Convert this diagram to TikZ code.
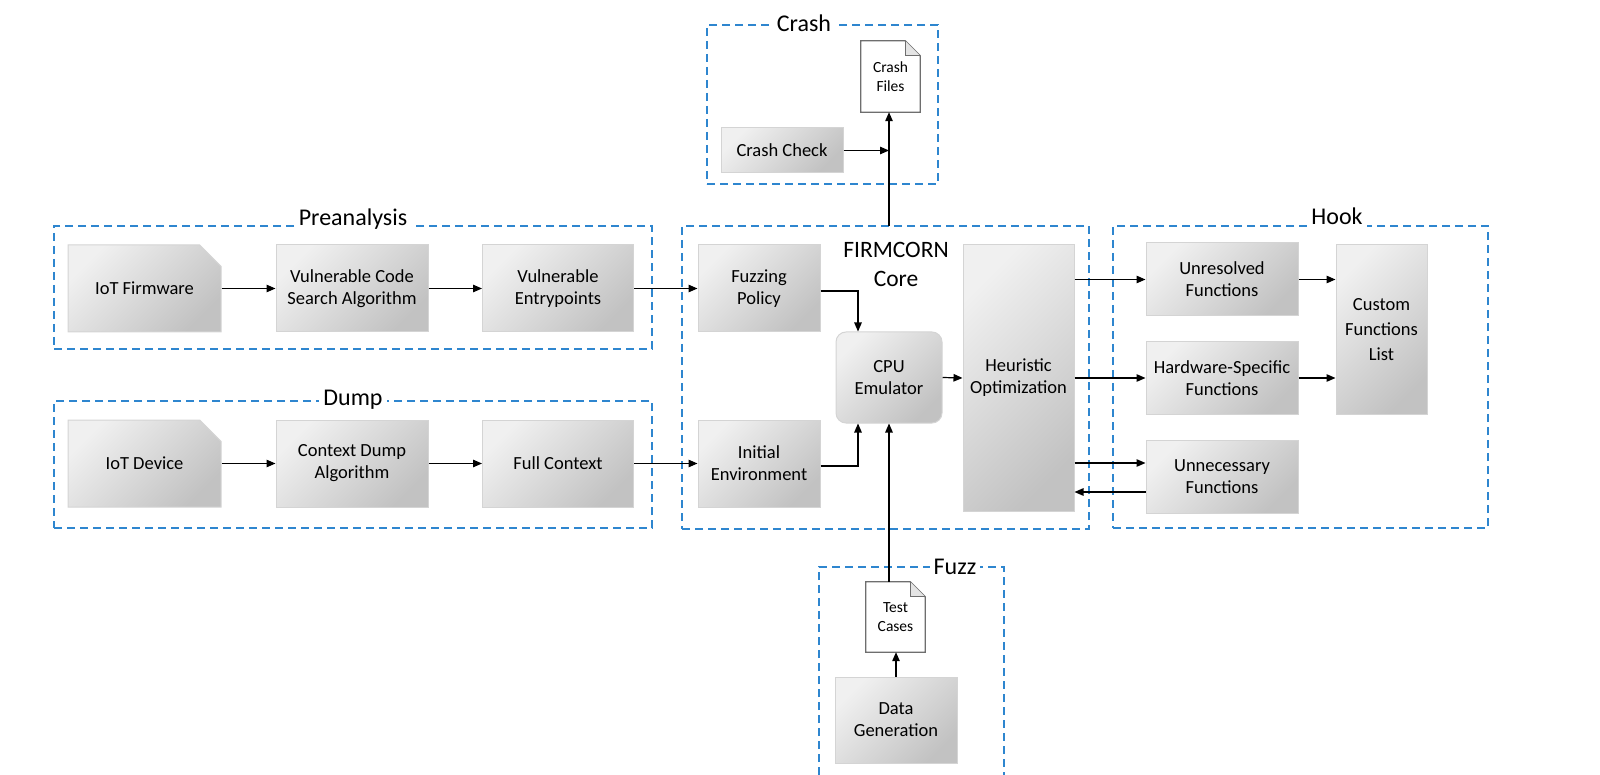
\documentclass[tikz,border=0pt]{standalone}
\usepackage{fontspec}
\setmainfont{Carlito}
\usetikzlibrary{arrows.meta,shapes.misc}
\definecolor{gtop}{HTML}{F0F0F0}
\definecolor{gbot}{HTML}{C2C2C2}
\definecolor{gborder}{HTML}{D4D4D4}
\definecolor{grpblue}{HTML}{2E86CF}
\definecolor{docgray}{HTML}{6E6E6E}
\definecolor{foldgray}{HTML}{E4E4E4}
\begin{document}
\begin{tikzpicture}[x=1pt,y=-1pt,
  gbox/.style={draw=gborder, line width=1pt, top color=gtop, bottom color=gbot, shading angle=45,
    align=center, inner sep=2pt, font=\fontsize{18.5}{22}\selectfont},
  snipbox/.style={gbox, chamfered rectangle, chamfered rectangle corners=north east,
    chamfered rectangle xsep=13pt, chamfered rectangle ysep=13pt},
  docnode/.style={align=center, inner sep=0pt, font=\fontsize{15.5}{19}\selectfont},
  docline/.style={draw=docgray, line width=1.3pt, line join=miter},
  group/.style={draw=grpblue, line width=1.3pt, dash pattern=on 8pt off 5pt, inner sep=0pt, outer sep=0pt},
  grplabel/.style={fill=white, inner sep=4pt, anchor=base, font=\fontsize{24}{28}\selectfont},
  arr/.style={draw=black, line width=1.2pt, -{Triangle[length=9pt,width=7.5pt]}},
  plain/.style={draw=black!80, line width=1.4pt}
]
\useasboundingbox (0,0) rectangle (1600,775);

% group boxes
\node[group, minimum width=231pt, minimum height=159pt] (gcrash) at (822.5,104.5) {};
\node[group, minimum width=598pt, minimum height=123pt] (gpre) at (353,287.5) {};
\node[group, minimum width=598pt, minimum height=127pt] (gdump) at (353,464.5) {};
\node[group, minimum width=407pt, minimum height=303pt] (gcore) at (885.5,377.5) {};
\node[group, minimum width=375pt, minimum height=302pt] (ghook) at (1300.5,377) {};
\coordinate (fz1) at (819,775);
\coordinate (fz2) at (819,567);
\coordinate (fz3) at (1004,567);
\coordinate (fz4) at (1004,775);
\draw[group] (fz1) -- (fz2) -- (fz3) -- (fz4);

% group labels
\node[grplabel] (lcrash) at (804,32) {Crash};
\node[grplabel] (lpre) at (353,226) {Preanalysis};
\node[grplabel] (ldump) at (353,405) {Dump};
\node[grplabel] (lhook) at (1337,225) {Hook};
\node[grplabel] (lfuzz) at (955,574) {Fuzz};
\node[align=center, font=\fontsize{23.5}{29}\selectfont] (lcore) at (896,264) {FIRMCORN\\Core};

% crash
\node[docnode, minimum width=59pt, minimum height=71pt] (cf) at (890.5,76.5) {};
\draw[docline, fill=white] (cf.south west) -- (cf.north west) -- ([xshift=-15pt]cf.north east)
  -- ([yshift=-15pt]cf.north east) -- (cf.south east) -- cycle;
\draw[docline, line width=1pt, fill=foldgray] ([xshift=-15pt]cf.north east) -- ([xshift=-15pt,yshift=-15pt]cf.north east) -- ([yshift=-15pt]cf.north east);
\node[docnode] (cftext) at (cf) {Crash\\Files};
\node[gbox, minimum width=122pt, minimum height=45pt] (cc) at (782,150.5) {Crash Check};

% preanalysis
\node[snipbox, minimum width=153pt, minimum height=87pt] (iotfw) at (144.5,288.5) {IoT Firmware};
\node[gbox, minimum width=152pt, minimum height=87pt] (vcs) at (352,288.5) {Vulnerable Code\\Search Algorithm};
\node[gbox, minimum width=151pt, minimum height=87pt] (vep) at (558,288.5) {Vulnerable\\Entrypoints};

% dump
\node[snipbox, minimum width=153pt, minimum height=87pt] (iotdev) at (144.5,463.5) {IoT Device};
\node[gbox, minimum width=152pt, minimum height=87pt] (cda) at (352,463.5) {Context Dump\\Algorithm};
\node[gbox, minimum width=151pt, minimum height=87pt] (fullctx) at (558,463.5) {Full Context};

% core
\node[gbox, minimum width=122pt, minimum height=87pt] (fuzzpol) at (759,288.5) {Fuzzing\\Policy};
\node[gbox, minimum width=122pt, minimum height=87pt] (initenv) at (759,463.5) {Initial\\Environment};
\node[gbox, rounded corners=10pt, minimum width=106pt, minimum height=91pt] (cpu) at (889,377.5) {CPU\\Emulator};
\node[gbox, minimum width=111pt, minimum height=266pt] (heur) at (1018.5,378) {Heuristic\\Optimization};

% hook
\node[gbox, minimum width=152pt, minimum height=73pt] (unres) at (1222,279.5) {Unresolved\\Functions};
\node[gbox, minimum width=152pt, minimum height=72pt] (hw) at (1222,378) {Hardware-Specific\\Functions};
\node[gbox, minimum width=152pt, minimum height=73pt] (unnec) at (1222,476.5) {Unnecessary\\Functions};
\node[gbox, minimum width=91pt, minimum height=169pt, font=\fontsize{18.5}{25}\selectfont] (custom) at (1381.5,329.5) {Custom\\Functions\\List};

% fuzz
\node[docnode, minimum width=59pt, minimum height=70pt] (tc) at (895.5,617) {};
\draw[docline, fill=white] (tc.south west) -- (tc.north west) -- ([xshift=-15pt]tc.north east)
  -- ([yshift=-15pt]tc.north east) -- (tc.south east) -- cycle;
\draw[docline, line width=1pt, fill=foldgray] ([xshift=-15pt]tc.north east) -- ([xshift=-15pt,yshift=-15pt]tc.north east) -- ([yshift=-15pt]tc.north east);
\node[docnode] (tctext) at (tc) {Test\\Cases};
\node[gbox, minimum width=122pt, minimum height=86pt] (datagen) at (896,720) {Data\\Generation};

% connectors
\draw[arr] (iotfw.east) -- (vcs.west);
\draw[arr] (vcs.east) -- (vep.west);
\draw[arr] (vep.east) -- (fuzzpol.west);
\draw[arr] (iotdev.east) -- (cda.west);
\draw[arr] (cda.east) -- (fullctx.west);
\draw[arr] (fullctx.east) -- (initenv.west);
\draw[arr] ([yshift=-2.5pt]fuzzpol.east) -| ([xshift=-31pt]cpu.north);
\draw[arr] ([yshift=-2.5pt]initenv.east) -| ([xshift=-31pt]cpu.south);
\draw[arr] (cpu.east) -- (heur.west);
\draw[arr] (heur.east |- unres.west) -- (unres.west);
\draw[arr] (heur.east |- hw.west) -- (hw.west);
\coordinate (unin) at ([yshift=13.5pt]unnec.west);
\coordinate (unout) at ([yshift=-15.5pt]unnec.west);
\draw[arr] (heur.east |- unin) -- (unin);
\draw[arr] (unout) -- (heur.east |- unout);
\draw[arr] (unres.east) -- (unres.east -| custom.west);
\draw[arr] (hw.east) -- (hw.east -| custom.west);
\draw[arr] (cpu.south |- tc.north) -- (cpu.south);
\draw[arr] (datagen.north) -- (datagen.north |- tc.south);
\draw[arr] (cpu.north |- gcore.north) -- (cpu.north |- cf.south);
\draw[arr] (cc.east) -- (cc.east -| cpu.north);
\end{tikzpicture}
\end{document}
